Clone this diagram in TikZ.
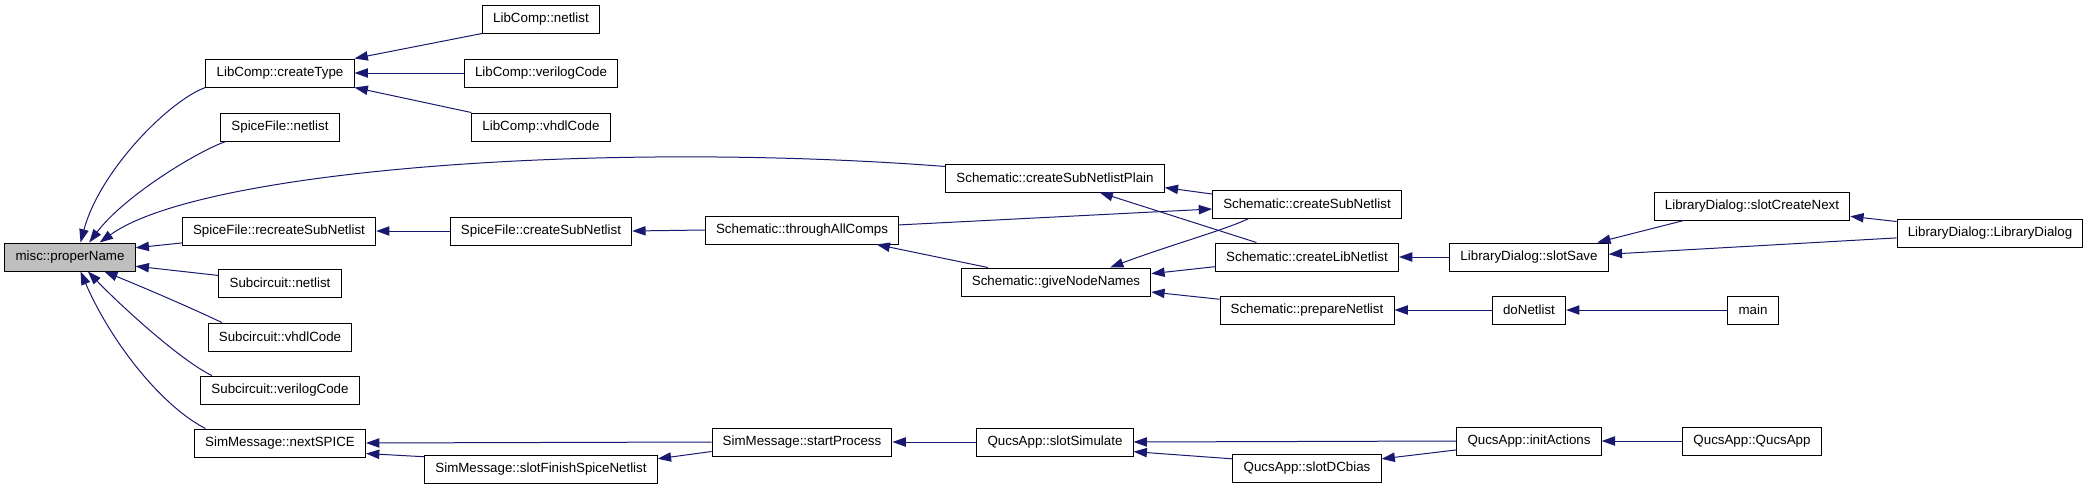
\documentclass[tikz,border=0pt]{standalone}
\usepackage{fontspec}
\setmainfont{Liberation Sans}
\usetikzlibrary{arrows.meta}
\definecolor{edgeNavy}{RGB}{25,25,112}
\definecolor{focusGrey}{RGB}{191,191,191}
\tikzset{
  fnBox/.style={draw=black,line width=0.75pt,fill=white,minimum height=21pt,inner xsep=8pt,inner ysep=2pt,font=\fontsize{10}{12}\selectfont},
  callEdge/.style={draw=edgeNavy,line width=0.75pt,-{Triangle[length=10pt,width=7pt]}}
}

\begin{document}
\begin{tikzpicture}[x=0.75pt,y=-0.75pt]
\useasboundingbox (0,0) rectangle (2088,489);
% column 0 and 1
\node[fnBox,fill=focusGrey] (properName) at (70,257) {misc::properName};
\node[fnBox] (createType) at (280,73) {LibComp::createType};
\node[fnBox] (spiceNetlist) at (280,127) {SpiceFile::netlist};
\node[fnBox] (recreateSub) at (279,231) {SpiceFile::recreateSubNetlist};
\node[fnBox] (subNetlist) at (280,283) {Subcircuit::netlist};
\node[fnBox] (subVhdl) at (280,337) {Subcircuit::vhdlCode};
\node[fnBox] (subVerilog) at (280,390) {Subcircuit::verilogCode};
\node[fnBox] (nextSpice) at (280,443) {SimMessage::nextSPICE};
% column 2
\node[fnBox] (libNetlist) at (541,19) {LibComp::netlist};
\node[fnBox] (libVerilog) at (541,73) {LibComp::verilogCode};
\node[fnBox] (libVhdl) at (541,127) {LibComp::vhdlCode};
\node[fnBox] (spiceCreateSub) at (541,231) {SpiceFile::createSubNetlist};
\node[fnBox] (finishSpice) at (541,469) {SimMessage::slotFinishSpiceNetlist};
% columns 3 and 4
\node[fnBox] (throughAll) at (802,230) {Schematic::throughAllComps};
\node[fnBox] (startProcess) at (802,442) {SimMessage::startProcess};
\node[fnBox] (subPlain) at (1055,178) {Schematic::createSubNetlistPlain};
\node[fnBox] (giveNames) at (1056,282) {Schematic::giveNodeNames};
\node[fnBox] (slotSimulate) at (1055,442) {QucsApp::slotSimulate};
% column 5
\node[fnBox] (schemCreateSub) at (1307,204) {Schematic::createSubNetlist};
\node[fnBox] (createLib) at (1307,257) {Schematic::createLibNetlist};
\node[fnBox] (prepareNet) at (1307,310) {Schematic::prepareNetlist};
\node[fnBox] (slotDCbias) at (1307,468) {QucsApp::slotDCbias};
% columns 6, 7 and 8
\node[fnBox] (slotSave) at (1529,257) {LibraryDialog::slotSave};
\node[fnBox] (doNetlist) at (1529,310) {doNetlist};
\node[fnBox] (initActions) at (1529,441) {QucsApp::initActions};
\node[fnBox] (createNext) at (1752,206) {LibraryDialog::slotCreateNext};
\node[fnBox] (mainFn) at (1753,310) {main};
\node[fnBox] (qucsApp) at (1752,441) {QucsApp::QucsApp};
\node[fnBox] (libDialog) at (1990,233) {LibraryDialog::LibraryDialog};

% callers of misc::properName
\draw[callEdge] (createType.south west) .. controls (170,100) and (100,170) .. (properName.54.5);
\draw[callEdge] (spiceNetlist.195) .. controls (200,150) and (125,195) .. (properName.37.9);
\draw[callEdge] (subPlain.174.3) .. controls (600,140) and (200,170) .. (properName.26.6);
\draw[callEdge] (recreateSub.187.1) -- (properName.8.7);
\draw[callEdge] (subNetlist.173.6) -- (properName.-8.7);
\draw[callEdge] (subVhdl.166.2) .. controls (200,312) and (150,290) .. (properName.-23);
\draw[callEdge] (subVerilog.168.7) .. controls (180,360) and (120,305) .. (properName.-39.5);
\draw[callEdge] (nextSpice.169.1) .. controls (160,405) and (110,340) .. (properName.-54.5);
% LibComp
\draw[callEdge] (libNetlist.south west) -- (createType.north east);
\draw[callEdge] (libVerilog.west) -- (createType.east);
\draw[callEdge] (libVhdl.north west) -- (createType.south east);
% Schematic
\draw[callEdge] (spiceCreateSub.west) -- (recreateSub.east);
\draw[callEdge] (throughAll.west) -- (spiceCreateSub.east);
\draw[callEdge] (throughAll.3) -- (schemCreateSub.183.6);
\draw[callEdge] (schemCreateSub.174) -- (subPlain.-5.7);
\draw[callEdge] (createLib.164.9) -- (subPlain.-18.4);
\draw[callEdge] (schemCreateSub.194.8) .. controls (1225,230) and (1170,245) .. (giveNames.15.6);
\draw[callEdge] (giveNames.168.4) -- (throughAll.-11.3);
\draw[callEdge] (createLib.186.2) -- (giveNames.5.4);
\draw[callEdge] (prepareNet.173.4) -- (giveNames.-6);
\draw[callEdge] (slotSave.west) -- (createLib.east);
\draw[callEdge] (createNext.192.9) -- (slotSave.12.5);
\draw[callEdge] (libDialog.183.1) -- (slotSave.2.9);
\draw[callEdge] (libDialog.173.1) -- (createNext.-6.4);
\draw[callEdge] (doNetlist.west) -- (prepareNet.east);
\draw[callEdge] (mainFn.west) -- (doNetlist.east);
% SimMessage and QucsApp
\draw[callEdge] (startProcess.west) -- (nextSpice.east);
\draw[callEdge] (finishSpice.174.6) -- (nextSpice.-7.3);
\draw[callEdge] (startProcess.186.3) -- (finishSpice.5.4);
\draw[callEdge] (slotSimulate.west) -- (startProcess.east);
\draw[callEdge] (initActions.west) -- (slotSimulate.east);
\draw[callEdge] (slotDCbias.173.9) -- (slotSimulate.-7.2);
\draw[callEdge] (initActions.187) -- (slotDCbias.7.6);
\draw[callEdge] (qucsApp.west) -- (initActions.east);
\end{tikzpicture}
\end{document}
